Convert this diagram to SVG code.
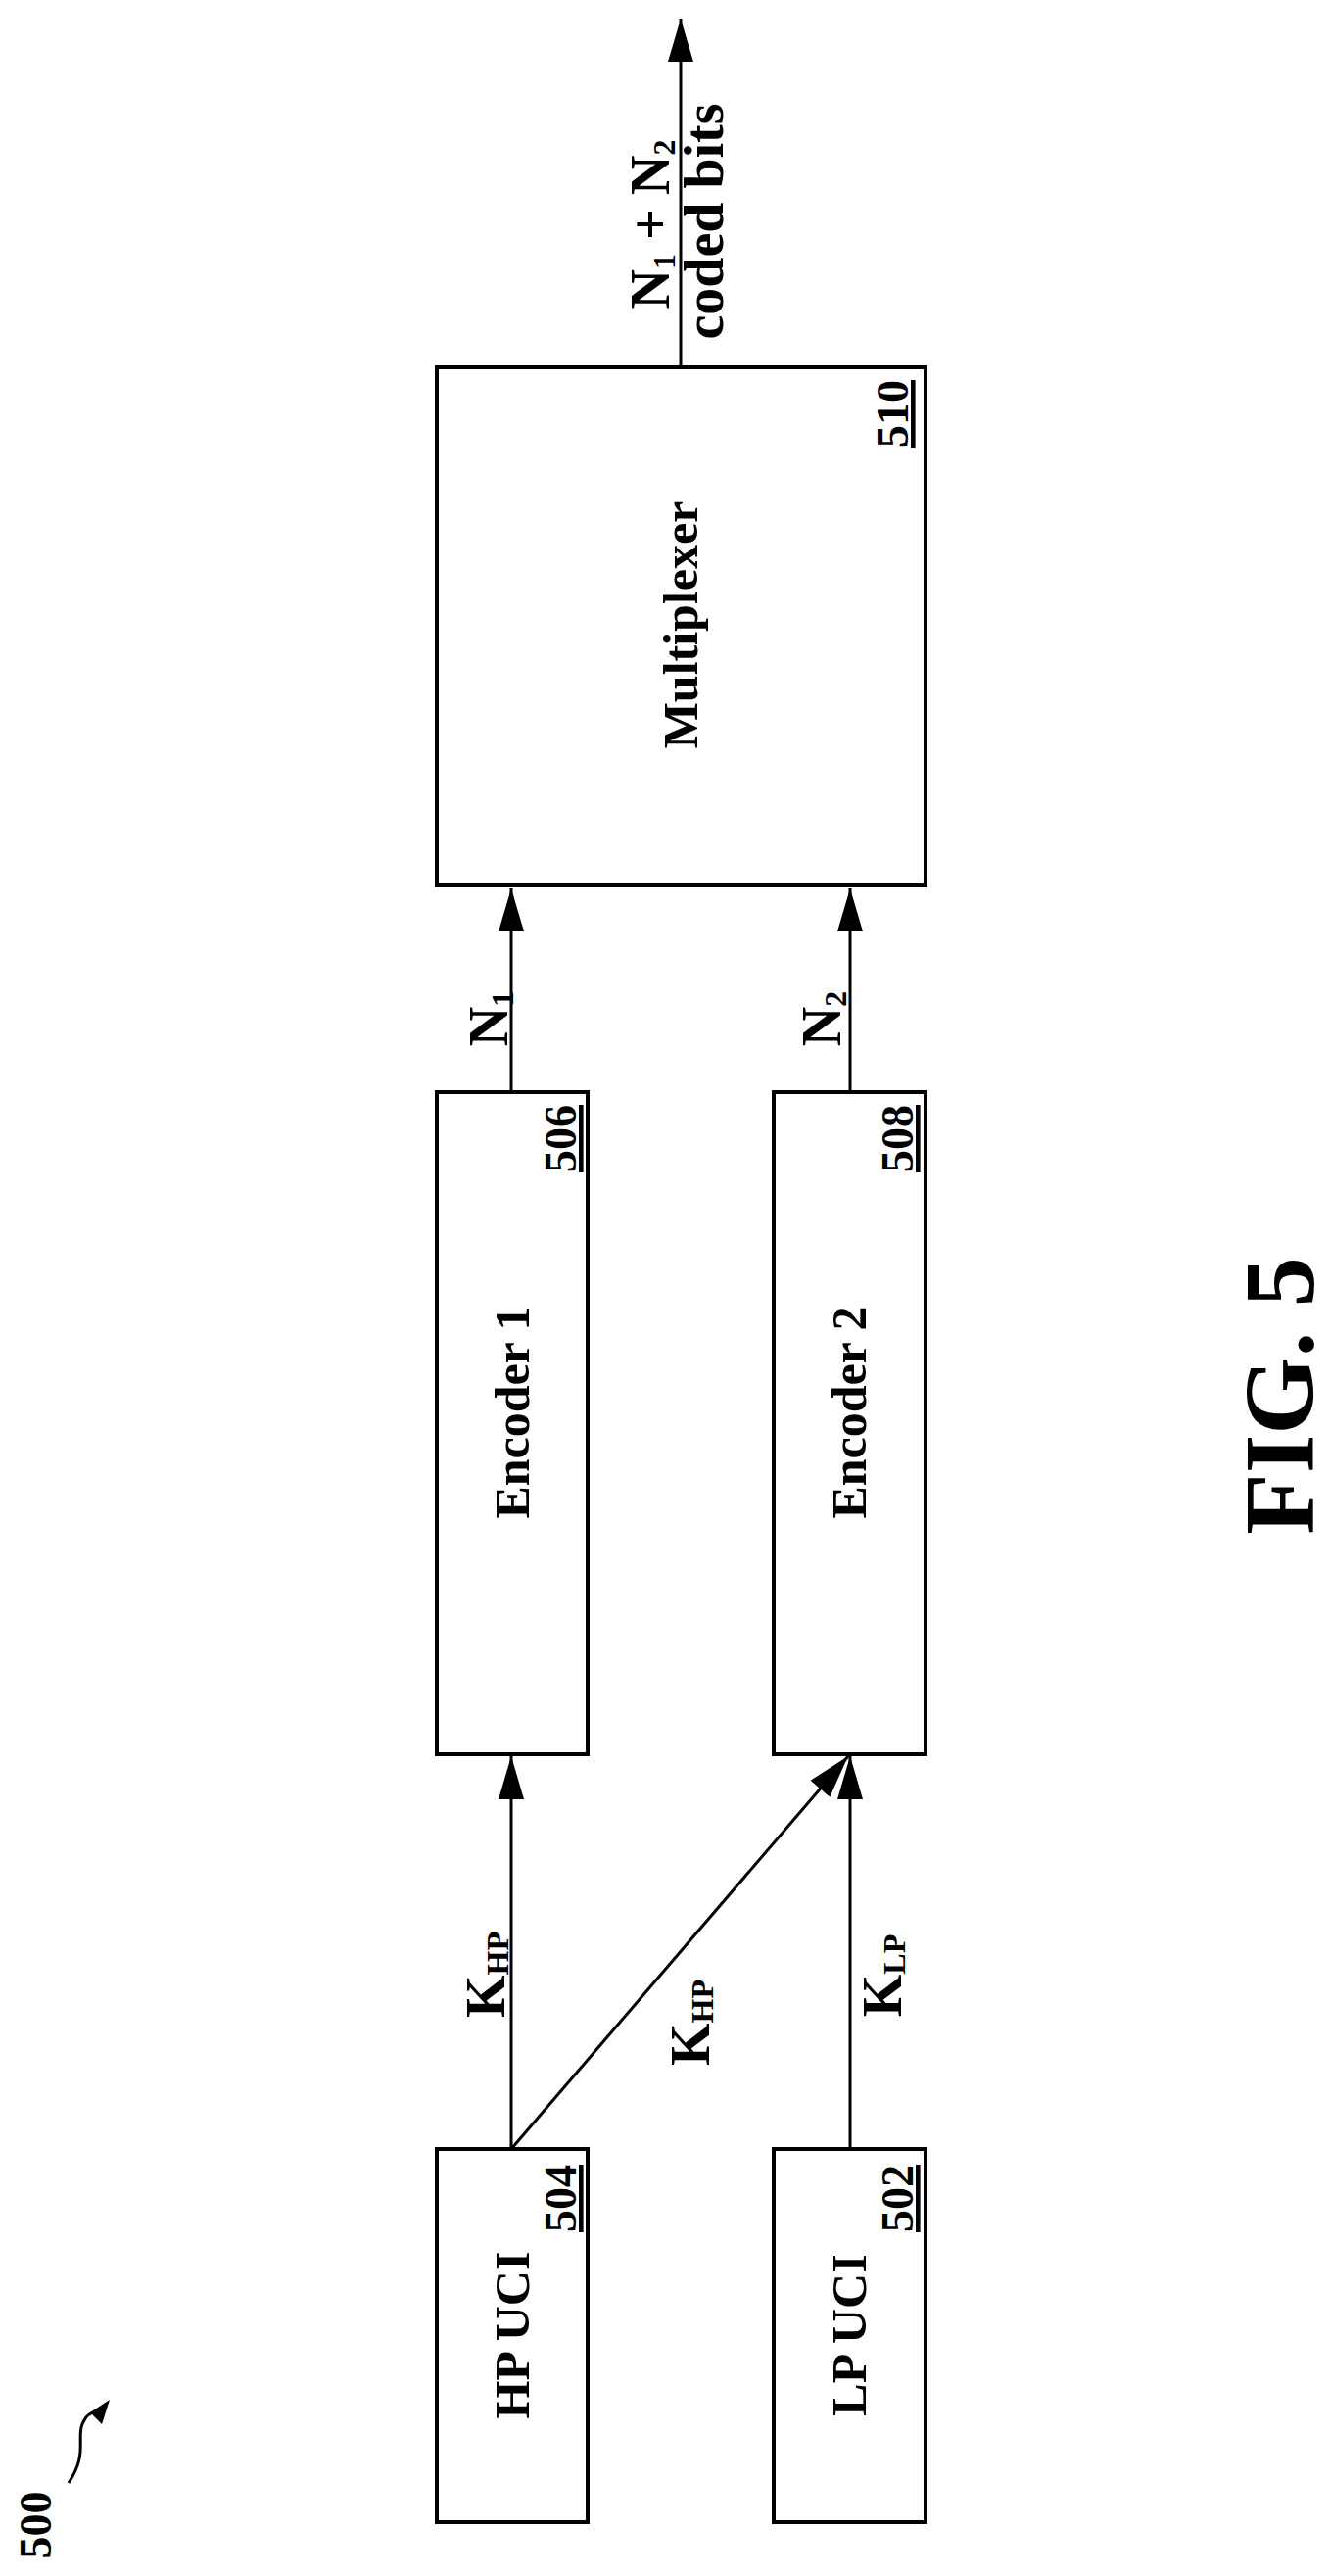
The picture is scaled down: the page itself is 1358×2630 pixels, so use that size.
<svg xmlns="http://www.w3.org/2000/svg" width="1358" height="2630" viewBox="0 0 1358 2630">
<style>
.box{fill:#fff;stroke:#000;stroke-width:4}
.ln{fill:none;stroke:#000;stroke-width:3}
text{font-family:"Liberation Serif","Times New Roman",serif;font-weight:bold;fill:#000}
.t{font-size:50px;text-anchor:middle}
.ref{font-size:46px;text-anchor:end;text-decoration:underline}
.k{font-size:56px;text-anchor:middle}
.s{font-size:32px}
</style>
<defs>
<marker id="ah" markerUnits="userSpaceOnUse" markerWidth="44" markerHeight="26" refX="44" refY="13" orient="auto">
<path d="M0,0 L44,13 L0,26 z" fill="#000"/>
</marker>
</defs>
<rect width="1358" height="2630" fill="#fff"/>
<g id="connectors">
<line class="ln" x1="522" y1="2194" x2="522" y2="1793" marker-end="url(#ah)"/>
<line class="ln" x1="522" y1="2194" x2="866" y2="1793" marker-end="url(#ah)"/>
<line class="ln" x1="868" y1="2194" x2="868" y2="1793" marker-end="url(#ah)"/>
<line class="ln" x1="522" y1="1115" x2="522" y2="907" marker-end="url(#ah)"/>
<line class="ln" x1="868" y1="1115" x2="868" y2="907" marker-end="url(#ah)"/>
<line class="ln" x1="695" y1="375" x2="695" y2="19" marker-end="url(#ah)"/>
<text class="k" transform="translate(515,2016) rotate(-90)">K<tspan class="s" dy="4">HP</tspan></text>
<text class="k" transform="translate(724,2065) rotate(-90)">K<tspan class="s" dy="4">HP</tspan></text>
<text class="k" transform="translate(920,2017) rotate(-90)">K<tspan class="s" dy="4">LP</tspan></text>
<text class="k" transform="translate(518,1040) rotate(-90)">N<tspan class="s" dy="6">1</tspan></text>
<text class="k" transform="translate(858,1040) rotate(-90)">N<tspan class="s" dy="6">2</tspan></text>
<text class="k" transform="translate(683,229) rotate(-90)">N<tspan class="s" dy="6">1</tspan><tspan dy="-6"> + N</tspan><tspan class="s" dy="6">2</tspan></text>
<text class="k" transform="translate(738,226) rotate(-90)">coded bits</text>
</g>
<g id="n510">
<rect class="box" x="446" y="375" width="499" height="529"/>
<text class="t" transform="translate(712,638) rotate(-90)">Multiplexer</text>
<text class="ref" transform="translate(927,388) rotate(-90)">510</text>
</g>
<g id="n506">
<rect class="box" x="446" y="1115" width="154" height="676"/>
<text class="t" transform="translate(540,1442) rotate(-90)">Encoder 1</text>
<text class="ref" transform="translate(588,1128) rotate(-90)">506</text>
</g>
<g id="n508">
<rect class="box" x="790" y="1115" width="155" height="676"/>
<text class="t" transform="translate(884,1442) rotate(-90)">Encoder 2</text>
<text class="ref" transform="translate(932,1128) rotate(-90)">508</text>
</g>
<g id="n504">
<rect class="box" x="446" y="2194" width="154" height="381"/>
<text class="t" transform="translate(540,2384) rotate(-90)">HP UCI</text>
<text class="ref" transform="translate(588,2210) rotate(-90)">504</text>
</g>
<g id="n502">
<rect class="box" x="790" y="2194" width="155" height="381"/>
<text class="t" transform="translate(884,2384) rotate(-90)">LP UCI</text>
<text class="ref" transform="translate(932,2210) rotate(-90)">502</text>
</g>
<g id="n500">
<text style="font-size:46px;text-anchor:middle" transform="translate(52,2578) rotate(-90)">500</text>
<path d="M70,2535 C90,2505 78,2490 84,2475 C88,2465 95,2462 100,2462" fill="none" stroke="#000" stroke-width="3"/>
<path d="M112,2450 L92,2463 L104,2475 z" fill="#000"/>
</g>
<g id="fig">
<text style="font-size:102px;text-anchor:middle" transform="translate(1341,1425) rotate(-90)">FIG. 5</text>
</g>
</svg>
